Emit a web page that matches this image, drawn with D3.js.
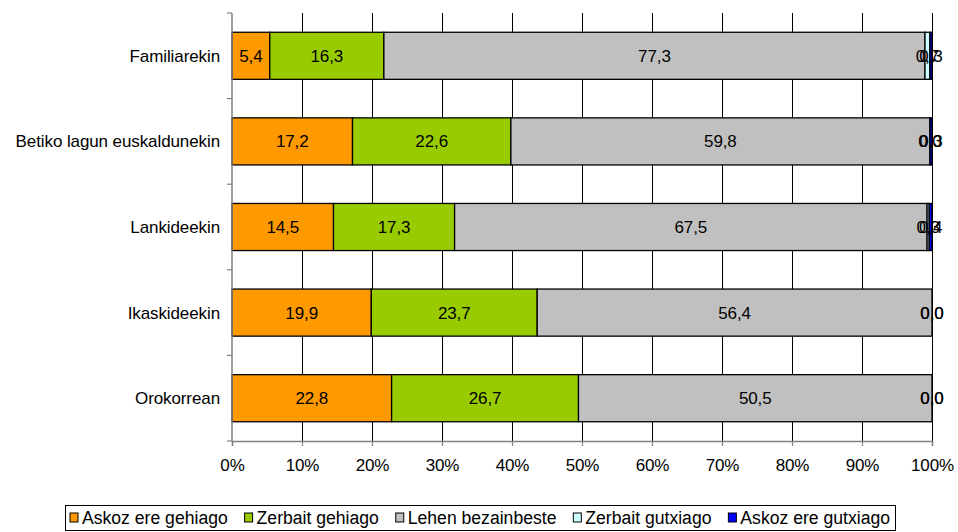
<!DOCTYPE html>
<html><head><meta charset="utf-8">
<script src="https://cdn.jsdelivr.net/npm/d3@7"></script>
<style>body{margin:0;background:#fff;} svg{display:block;font-family:"Liberation Sans",Arial,sans-serif;}</style>
</head><body><svg id="c" width="958" height="532"></svg>
<script>
const categories = ["Familiarekin","Betiko lagun euskaldunekin","Lankideekin","Ikaskideekin","Orokorrean"];
const seriesNames = ["Askoz ere gehiago","Zerbait gehiago","Lehen bezainbeste","Zerbait gutxiago","Askoz ere gutxiago"];
const askozGehiago = [5.4,17.2,14.5,19.9,22.8];
const zerbaitGehiago = [16.3,22.6,17.3,23.7,26.7];
const lehenBezainbeste = [77.3,59.8,67.5,56.4,50.5];
const zerbaitGutxiago = [0.7,0.0,0.3,0.0,0.0];
const askozGutxiago = [0.3,0.3,0.4,0.0,0.0];
const colors = ["#FF9900","#99CC00","#C0C0C0","#CCFFFF","#0000FF"];
const xTicks = [0,10,20,30,40,50,60,70,80,90,100];

const FS = 17, LS = "-0.1";
const seriesVals = [askozGehiago,zerbaitGehiago,lehenBezainbeste,zerbaitGutxiago,askozGutxiago];
const rows = categories.map((c,i)=>{const o={cat:c};seriesNames.forEach((s,j)=>o[s]=seriesVals[j][i]);return o;});
const totals = rows.map(r=>seriesNames.reduce((a,s)=>a+r[s],0));

const svg = d3.select("#c");
const L=232,R=932,T=13,B=441;
const x = d3.scaleLinear().domain([0,100]).range([L,R]);
const y = d3.scaleBand().domain(categories).range([T,B]).paddingInner(0.45).paddingOuter(0.225);
const step = (B-T)/categories.length;

// gridlines
svg.append("g").selectAll("line").data(xTicks.slice(1)).join("line")
  .attr("x1",d=>x(d)).attr("x2",d=>x(d)).attr("y1",T).attr("y2",B)
  .attr("stroke","#000").attr("stroke-width",1).attr("shape-rendering","crispEdges");

const stack = d3.stack().keys(seriesNames).value((d,k)=>d[k]/totals[rows.indexOf(d)]*100)(rows);

const g = svg.append("g");
stack.forEach((layer,j)=>{
  g.selectAll(null).data(layer).join("rect")
    .attr("x",d=>x(d[0])).attr("width",d=>Math.max(0,x(d[1])-x(d[0])))
    .attr("y",d=>y(d.data.cat)).attr("height",y.bandwidth())
    .attr("fill",colors[j]).attr("stroke","#000").attr("stroke-width",1.3);
});
// labels
stack.forEach((layer,j)=>{
  g.selectAll(null).data(layer).join("text")
    .attr("x",d=>x((d[0]+d[1])/2)).attr("y",d=>y(d.data.cat)+y.bandwidth()/2+6)
    .attr("text-anchor","middle").attr("font-size",FS).attr("letter-spacing",LS)
    .text(d=>d3.format(".1f")(d.data[seriesNames[j]]).replace(".",","));
});

// left axis
svg.append("line").attr("x1",L).attr("x2",L).attr("y1",T).attr("y2",B).attr("stroke","#808080").attr("stroke-width",1.5);
svg.append("g").selectAll("line").data(d3.range(categories.length+1)).join("line")
  .attr("x1",L-5).attr("x2",L).attr("y1",d=>T+d*step).attr("y2",d=>T+d*step).attr("stroke","#808080").attr("stroke-width",1.2);
svg.append("g").selectAll("text").data(categories).join("text")
  .attr("x",L-12).attr("y",d=>y(d)+y.bandwidth()/2+6).attr("text-anchor","end")
  .attr("font-size",FS).attr("letter-spacing",LS).text(d=>d);

// bottom axis
const xa = svg.append("g").attr("transform",`translate(0,${B})`)
  .call(d3.axisBottom(x).tickValues(xTicks).tickFormat(d=>d+"%").tickSize(5).tickPadding(13));
xa.select(".domain").attr("stroke","#808080").attr("stroke-width",1.5);
xa.selectAll(".tick line").attr("stroke","#808080").attr("stroke-width",1.2);
xa.selectAll("text").attr("font-size",FS).attr("letter-spacing",LS).attr("fill","#000").attr("font-family","Liberation Sans, Arial, sans-serif");

// legend
const lg = svg.append("g");
const bx0 = 65, bx1 = 895;
lg.append("rect").attr("x",bx0+0.5).attr("y",505.5).attr("width",bx1-bx0).attr("height",25).attr("fill","#fff").attr("stroke","#000");
const items = seriesNames.map((s,j)=>{
  const gi = lg.append("g");
  gi.append("rect").attr("x",0).attr("y",513).attr("width",8).attr("height",9).attr("fill",colors[j]).attr("stroke","#000").attr("stroke-width",1);
  const t = gi.append("text").attr("x",12).attr("y",524).attr("font-size",17.6).attr("letter-spacing","0").text(s);
  return {gi, w: 12 + t.node().getComputedTextLength()};
});
const total = d3.sum(items,d=>d.w);
const gap = (bx1-bx0-10-total)/(items.length-1);
let lx = bx0+5;
items.forEach(it=>{ it.gi.attr("transform",`translate(${lx},0)`); lx += it.w + gap; });
</script></body></html>
